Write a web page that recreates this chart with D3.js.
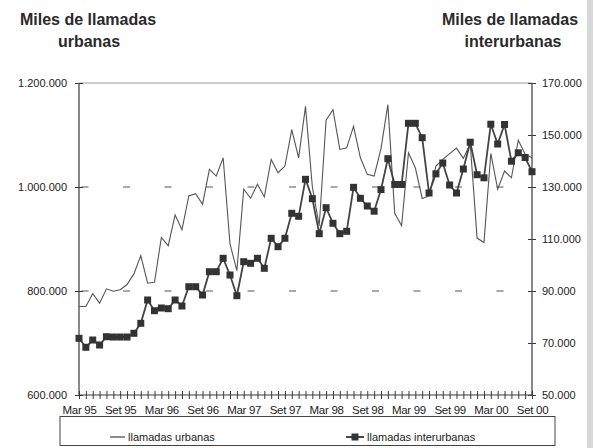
<!DOCTYPE html>
<html><head><meta charset="utf-8">
<script src="https://cdn.jsdelivr.net/npm/d3@7"></script>
<style>
body{margin:0;background:#fff;}
svg{display:block;font-family:"Liberation Sans",Arial,sans-serif;}
</style></head>
<body><svg id="c" width="593" height="448"></svg>
<script>
// 67 monthly points: Mar 95 .. Set 00
const monthCount = 67;
const tickLabels = ["Mar 95","Set 95","Mar 96","Set 96","Mar 97","Set 97","Mar 98","Set 98","Mar 99","Set 99","Mar 00","Set 00"];

const urbanas = [770300,770300,794700,776700,804200,799600,802300,812500,832900,868000,
 815000,816900,903000,887100,946400,917700,982800,987200,966900,1033900,
 1021100,1056100,890400,839000,995600,978400,1005200,980900,1053000,1027400,
 1040200,1110500,1056100,1155100,1000000,925400,1128300,1148700,1072200,1075200,
 1116800,1056100,1024300,1021100,1073700,1158300,949300,925400,1065700,1037000,
 978000,982800,1040200,1053000,1064100,1074700,1055000,1083300,901800,893400,
 1064500,995600,1030700,1017800,1090000,1063200,1056100];
const interurbanas = [71800,68350,71150,69230,72420,72300,72300,72300,73730,77580,
 86540,82420,83460,83190,86540,84230,91650,91650,88460,97420,
 97420,102580,96150,88190,101270,100650,102580,98730,110270,107040,
 110270,119880,118730,132960,125500,112040,122040,116040,112040,112960,
 129880,125650,122690,120690,129000,140880,130960,130960,154500,154500,
 148960,127690,135070,139230,130770,127690,136920,147230,134730,133540,
 154150,146530,154040,139920,143150,141340,135880];
const leftTicks = [600000,800000,1000000,1200000];
const rightTicks = [50000,70000,90000,110000,130000,150000,170000];
const gridValues = [800000,1000000];

const svg = d3.select("#c");
const L=79, R=532, T=83, B=395;
const x = d3.scalePoint().domain(d3.range(monthCount)).range([L,R]);
const yL = d3.scaleLinear().domain([600000,1200000]).range([B,T]);
const yR = d3.scaleLinear().domain([50000,170000]).range([B,T]);
const fmt = v => d3.format(",")(v).replace(/,/g,".");
const ink = "#3a3a3a";

// right scan shadow
svg.append("rect").attr("x",587).attr("y",0).attr("width",6).attr("height",448).attr("fill","#d8d8d8");

// dashed gridlines
gridValues.forEach(v=>{
  svg.append("line").attr("x1",L).attr("x2",R).attr("y1",yL(v)).attr("y2",yL(v))
   .attr("stroke","#555").attr("stroke-width",1.2).attr("stroke-dasharray","7 34.5").attr("stroke-dashoffset",39);
});
// top line
svg.append("line").attr("x1",L).attr("x2",R).attr("y1",T).attr("y2",T).attr("stroke","#999").attr("stroke-width",1);

// left axis
const gl = svg.append("g").attr("transform",`translate(${L},0)`)
  .call(d3.axisLeft(yL).tickValues(leftTicks).tickFormat(fmt).tickSize(4).tickPadding(8));
gl.selectAll(".tick line").attr("x2",4).attr("x1",-4);
// right axis
const gr = svg.append("g").attr("transform",`translate(${R},0)`)
  .call(d3.axisRight(yR).tickValues(rightTicks).tickFormat(fmt).tickSize(4).tickPadding(6));
gr.selectAll(".tick line").attr("x1",-4).attr("x2",4);
// bottom axis
const gb = svg.append("g").attr("transform",`translate(0,${B})`)
  .call(d3.axisBottom(x).tickSize(4).tickFormat(i=> (i%6===0)? tickLabels[i/6] : "").tickPadding(7));
gb.selectAll(".tick line").attr("y1",-4).attr("y2",4);
[gl,gr,gb].forEach(g=>{
  g.select(".domain").attr("stroke",ink).attr("stroke-width",1.2);
  g.selectAll(".tick line").attr("stroke",ink).attr("stroke-width",1);
  g.selectAll("text").attr("fill","#222").attr("font-size",11);
});
gb.select(".domain").attr("d",`M${L},0H${R}`);
gl.select(".domain").attr("d",`M0,${B}V${T}`);
gr.select(".domain").attr("d",`M0,${B}V${T}`);
gb.selectAll("text").attr("font-size",11.5).attr("letter-spacing",-0.3);

// lines
svg.append("path").datum(urbanas)
  .attr("d", d3.line().x((d,i)=>x(i)).y(d=>yL(d)))
  .attr("fill","none").attr("stroke","#555").attr("stroke-width",1.1);
svg.append("path").datum(interurbanas)
  .attr("d", d3.line().x((d,i)=>x(i)).y(d=>yR(d)))
  .attr("fill","none").attr("stroke","#444").attr("stroke-width",1.8);
svg.append("g").selectAll("rect").data(interurbanas).join("rect")
  .attr("x",(d,i)=>x(i)-3.5).attr("y",d=>yR(d)-3.5).attr("width",7).attr("height",7)
  .attr("fill","#333");

// titles
const t = svg.append("g").attr("font-weight","bold").attr("font-size",16).attr("fill","#2a2a2a").attr("text-anchor","middle");
t.append("text").attr("x",88).attr("y",25).text("Miles de llamadas");
t.append("text").attr("x",89).attr("y",47).text("urbanas");
t.append("text").attr("x",510).attr("y",25).text("Miles de llamadas");
t.append("text").attr("x",513).attr("y",47).text("interurbanas");

// legend
svg.append("rect").attr("x",60).attr("y",416.5).attr("width",495).attr("height",29)
  .attr("fill","none").attr("stroke","#444").attr("stroke-width",1);
svg.append("line").attr("x1",110).attr("x2",125).attr("y1",437).attr("y2",437).attr("stroke","#444").attr("stroke-width",1.2);
svg.append("text").attr("x",128).attr("y",441).attr("font-size",11).attr("fill","#222").text("llamadas urbanas");
svg.append("line").attr("x1",346).attr("x2",364).attr("y1",437).attr("y2",437).attr("stroke","#333").attr("stroke-width",1.8);
svg.append("rect").attr("x",351.5).attr("y",433.5).attr("width",7).attr("height",7).attr("fill","#333");
svg.append("text").attr("x",367).attr("y",441).attr("font-size",11).attr("fill","#222").text("llamadas interurbanas");
</script></body></html>
